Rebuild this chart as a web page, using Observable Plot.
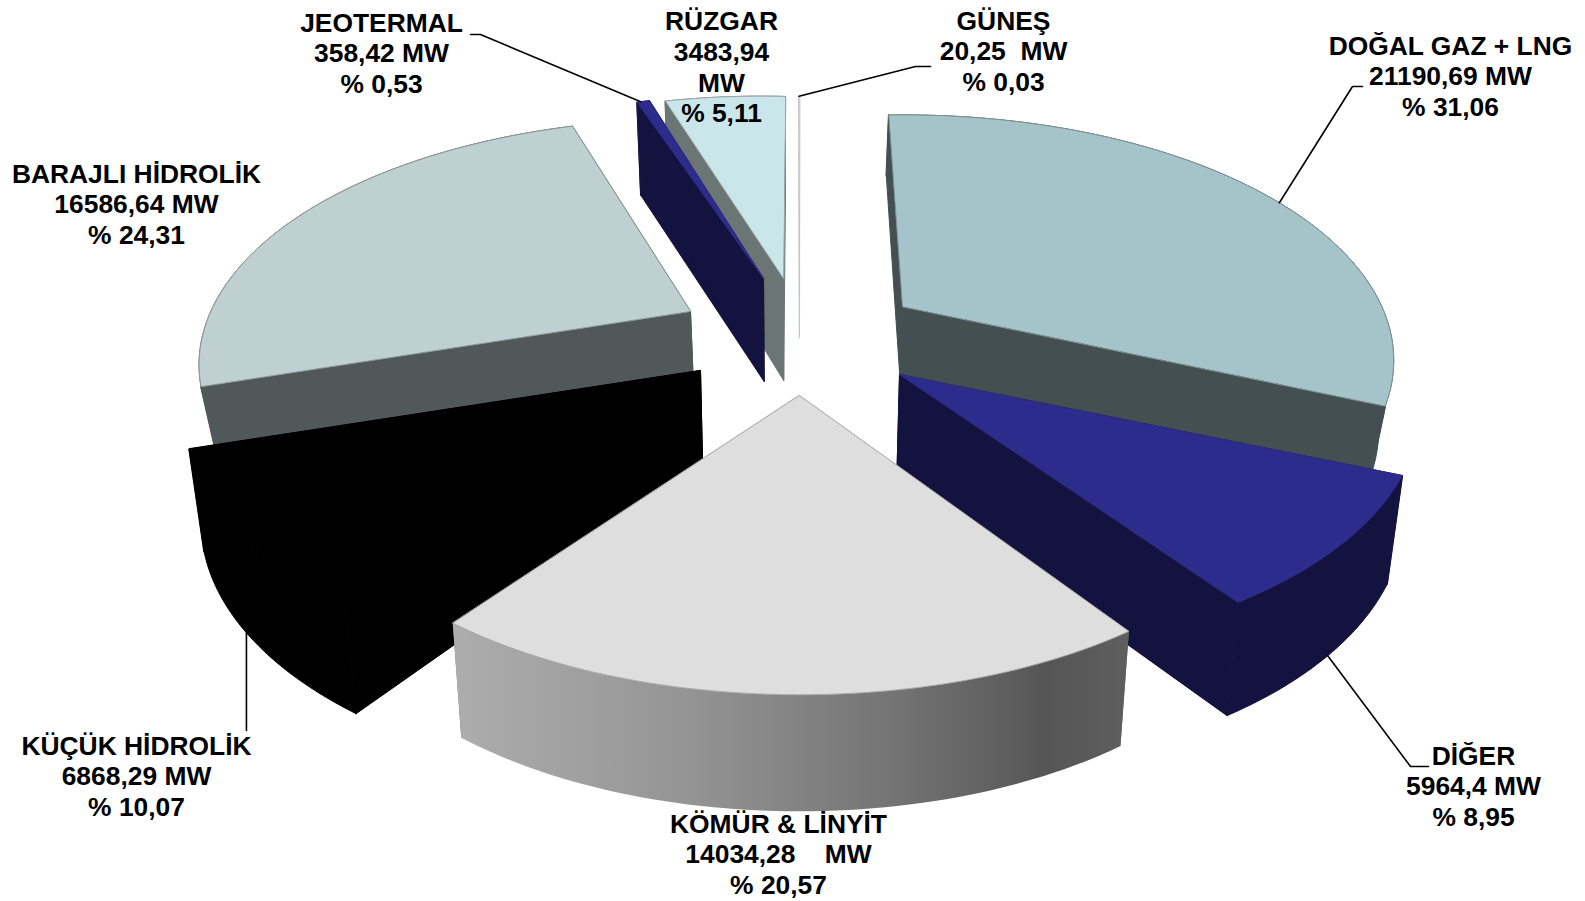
<!DOCTYPE html>
<html lang="tr">
<head>
<meta charset="utf-8">
<title>Kurulu güç dağılımı</title>
<script src="https://cdn.jsdelivr.net/npm/d3@7"></script>
<script src="https://cdn.jsdelivr.net/npm/@observablehq/plot@0.6"></script>
<style>
  html, body { margin: 0; background: #fff; }
  svg { display: block; }
</style>
</head>
<body>
<div id="chart"></div>
<script>
// Installed capacity by source, clockwise from twelve o'clock.
const names = ["DOĞAL GAZ + LNG", "DİĞER", "KÖMÜR & LİNYİT", "KÜÇÜK HİDROLİK", "BARAJLI HİDROLİK", "JEOTERMAL", "RÜZGAR", "GÜNEŞ"];
const capacityMW = [21190.69, 5964.4, 14034.28, 6868.29, 16586.64, 358.42, 3483.94, 20.25];
const sharePct = ["31,06", "8,95", "20,57", "10,07", "24,31", "0,53", "5,11", "0,03"];

// Separator between the figure and its unit on each label.
const unitGap = [" ", " ", "\u00a0\u00a0\u00a0\u00a0", " ", " ", " ", "\n", "\u00a0\u00a0"];

// Exploded position of each slice, its thickness, size and small angular corrections.
const apexX = [902, 899, 799, 700, 690, 763, 783, 799];
const apexY = [306, 374, 395, 370, 311, 278, 278, 336];
const depth = [68, 105, 106, 100, 63, 103, 102, 2];
const radiusStart = [1.005, 1.05, 1.01, 1.04, 1.01, 0.97, 0.97, 1.26];
const radiusEnd = [1.01, 1.0, 1.01, 1.055, 1.01, 0.97, 0.955, 1.26];
const turnStart = [0, 3, 5, 2, 2, 3, 2.4, 2];
const turnEnd = [3.5, 3.3, 2.2, 2, 5, 3, 2.4, 2];

// Paint per slice.
const topFill = ["#a5c4c9", "#2c2c8c", "#dedede", "#000000", "#bfd0d1", "#2c2c8c", "#cbe6ea", "#e4e4e4"];
const sideFill = ["#434f50", "#14123f", "url(#coal-rim)", "#000000", "#50585a", "#14123f", "#6b7674", "#e4e4e4"];
const edgeStroke = ["#7f9498", "#2c2c8c", "#a8a8a8", "#000000", "#8d9a9b", "#2c2c8c", "#98a8aa", "#c4c4c4"];

// Paint order, furthest slice first.
const drawOrder = [7, 6, 5, 4, 0, 3, 1, 2];

// Label block centres.
const labelX = [1450, 1473, 778, 136, 136, 381, 721, 1003];
const labelY = [75, 785, 853, 775, 203, 52, 66, 50];

// Leader lines: slice, position along its arc, rim level, then the elbow and the end beside the label.
const leaderSlice = [5, 7, 0, 1, 3];
const leaderArc = [0.3, 0.5, 0.545, 0.5, 0.53];
const leaderBottom = [false, false, false, true, true];
const leaderElbowX = [480, 915, 1352, 1410, null];
const leaderElbowY = [34, 66, 86, 766, 730];
const leaderEndX = [470, 930, 1362, 1428, null];
const leaderEndY = [34, 66, 86, 766, 730];

const W = 1585, H = 901;

// Tilted-disc projection parameters.
const spreadX = 475, spreadY = 232, perspective = 0.217, rotation = -2;
const taper = 0.975, taperCentre = 790;

const rad = Math.PI / 180;
const arcs = d3.pie().sort(null).value(d => d)(capacityMW);

function span(i) {
  const a = arcs[i];
  return [a.startAngle / rad + rotation + turnStart[i], a.endAngle / rad + rotation + turnEnd[i]];
}

// Screen position of a rim point, on the upper or lower plane of a slice.
function rim(i, deg, lower) {
  const [a, b] = span(i);
  const r = radiusStart[i] + (radiusEnd[i] - radiusStart[i]) * (deg - a) / (b - a);
  const s = Math.sin(deg * rad), c = Math.cos(deg * rad);
  const den = 1 + perspective * c;
  const x = apexX[i] + r * spreadX * s / den;
  const y = apexY[i] - r * spreadY * c / den;
  return lower ? drop(x, y, depth[i] * (1 - 0.1 * c)) : {x, y};
}
function drop(x, y, d) {
  return {x: taperCentre + (x - taperCentre) * taper, y: y + d};
}
function apex(i, lower) {
  return lower ? drop(apexX[i], apexY[i], depth[i]) : {x: apexX[i], y: apexY[i]};
}
function arcPoints(i, lower) {
  const [a, b] = span(i);
  return d3.range(0, 61).map(k => rim(i, a + (b - a) * k / 60, lower));
}

function polygon(points, fill, stroke = "none", strokeWidth = 1) {
  return Plot.line(points, {x: "x", y: "y", fill, stroke, strokeWidth, curve: "linear-closed", strokeLinejoin: "round"});
}

const sliceMarks = drawOrder.flatMap(i => {
  const [a, b] = span(i);
  const upper = arcPoints(i, false);
  const lower = arcPoints(i, true);
  const side = sideFill[i];
  const graded = side.startsWith("url");
  const cut = graded ? "#777" : side;
  const seam = graded ? "none" : side;
  return [
    polygon([rim(i, a, false), apex(i, false), apex(i, true), rim(i, a, true)], cut, seam),
    polygon([rim(i, b, false), apex(i, false), apex(i, true), rim(i, b, true)], cut, seam),
    polygon([...upper, ...lower.reverse()], side, seam),
    polygon([apex(i, false), ...upper], topFill[i], edgeStroke[i], 1)
  ];
});

const leaderMarks = leaderSlice.map((i, k) => {
  const [a, b] = span(i);
  const end = rim(i, a + (b - a) * leaderArc[k], leaderBottom[k]);
  const path = [
    {x: leaderEndX[k] ?? end.x, y: leaderEndY[k]},
    {x: leaderElbowX[k] ?? end.x, y: leaderElbowY[k]},
    end
  ];
  return Plot.line(path, {x: "x", y: "y", stroke: "#000", strokeWidth: 1.6});
});

const labels = names.map((name, i) => ({
  x: labelX[i],
  y: labelY[i],
  text: `${name}\n${String(capacityMW[i]).replace(".", ",")}${unitGap[i]}MW\n% ${sharePct[i]}`
}));

// Left-to-right shading of the coal slice's outer wall.
function rimGradient() {
  const defs = d3.create("svg:defs");
  const g = defs.append("linearGradient").attr("id", "coal-rim")
    .attr("x1", 0).attr("x2", 1).attr("y1", 0).attr("y2", 0);
  [[0, "#adadad"], [0.35, "#949494"], [0.65, "#747474"], [0.88, "#565656"], [1, "#5e5e5e"]]
    .forEach(([o, c]) => g.append("stop").attr("offset", o).attr("stop-color", c));
  return defs.node();
}

const chart = Plot.plot({
  width: W,
  height: H,
  margin: 0,
  style: {background: "#fff"},
  x: {domain: [0, W], axis: null},
  y: {domain: [H, 0], axis: null},
  marks: [
    rimGradient,
    ...sliceMarks,
    ...leaderMarks,
    Plot.text(labels, {
      x: "x",
      y: "y",
      text: "text",
      fontFamily: "Liberation Sans",
      fontWeight: "bold",
      fontSize: 26.4,
      lineHeight: 1.16,
      fill: "#000",
      textAnchor: "middle"
    })
  ]
});
document.getElementById("chart").append(chart);
</script>
</body>
</html>
